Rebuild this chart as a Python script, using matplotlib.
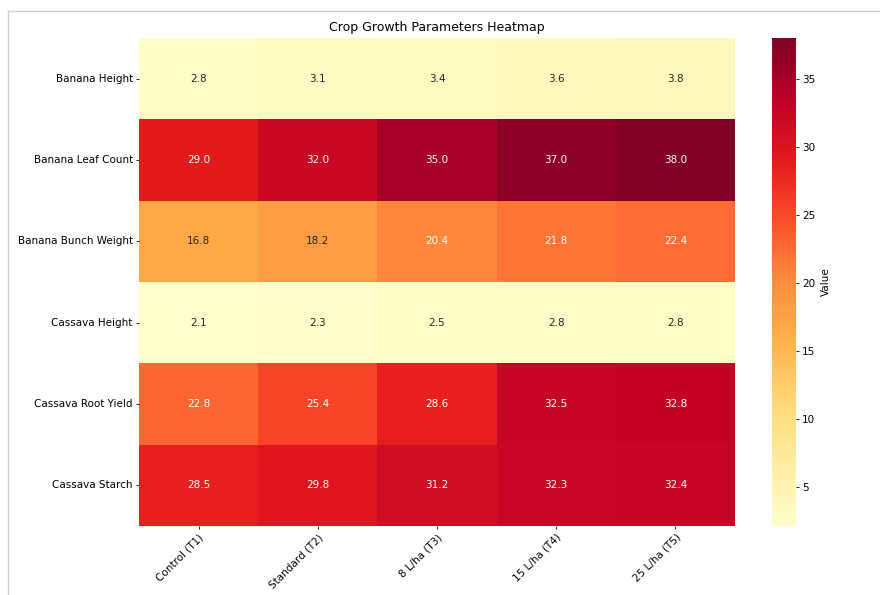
import numpy as np
import matplotlib
matplotlib.use("Agg")
import matplotlib.pyplot as plt
import seaborn as sns
from matplotlib.lines import Line2D

# data
params = ["Banana Height", "Banana Leaf Count", "Banana Bunch Weight",
          "Cassava Height", "Cassava Root Yield", "Cassava Starch"]
treatments = ["Control (T1)", "Standard (T2)", "8 L/ha (T3)", "15 L/ha (T4)", "25 L/ha (T5)"]
banana_height = [2.8, 3.1, 3.4, 3.6, 3.8]
banana_leaf = [29.0, 32.0, 35.0, 37.0, 38.0]
banana_bunch = [16.8, 18.2, 20.4, 21.8, 22.4]
cassava_height = [2.1, 2.3, 2.5, 2.8, 2.8]
cassava_yield = [22.8, 25.4, 28.6, 32.5, 32.8]
cassava_starch = [28.5, 29.8, 31.2, 32.3, 32.4]

data = np.array([banana_height, banana_leaf, banana_bunch,
                 cassava_height, cassava_yield, cassava_starch])

fig = plt.figure(figsize=(8.8, 5.95), dpi=100)
ax = fig.add_axes([139/880, 1-526/595, (735-139)/880, (526-38)/595])
cax = fig.add_axes([772/880, 1-526/595, (796-772)/880, (526-38)/595])

sns.heatmap(data, ax=ax, cbar_ax=cax, cmap="YlOrRd", annot=True, fmt=".1f",
            annot_kws={"fontsize": 7.5},
            xticklabels=treatments, yticklabels=params,
            cbar_kws={"label": "Value"})

ax.set_title("Crop Growth Parameters Heatmap", fontsize=9, pad=5)
ax.tick_params(axis="both", labelsize=7.5, length=2.5, width=0.6, pad=2)
plt.setp(ax.get_xticklabels(), rotation=45, ha="right", rotation_mode="anchor")
plt.setp(ax.get_yticklabels(), rotation=0)
cax.tick_params(labelsize=7.5, length=2.5, width=0.6, pad=2)
cax.yaxis.label.set_size(7.5)

# notebook frame lines
fig.add_artist(Line2D([8/880, 1], [1-11/595, 1-11/595], color="#d0d0d0", lw=1))
fig.add_artist(Line2D([8/880, 8/880], [0, 1-11/595], color="#d0d0d0", lw=1))

fig.savefig("out.png", dpi=100)
